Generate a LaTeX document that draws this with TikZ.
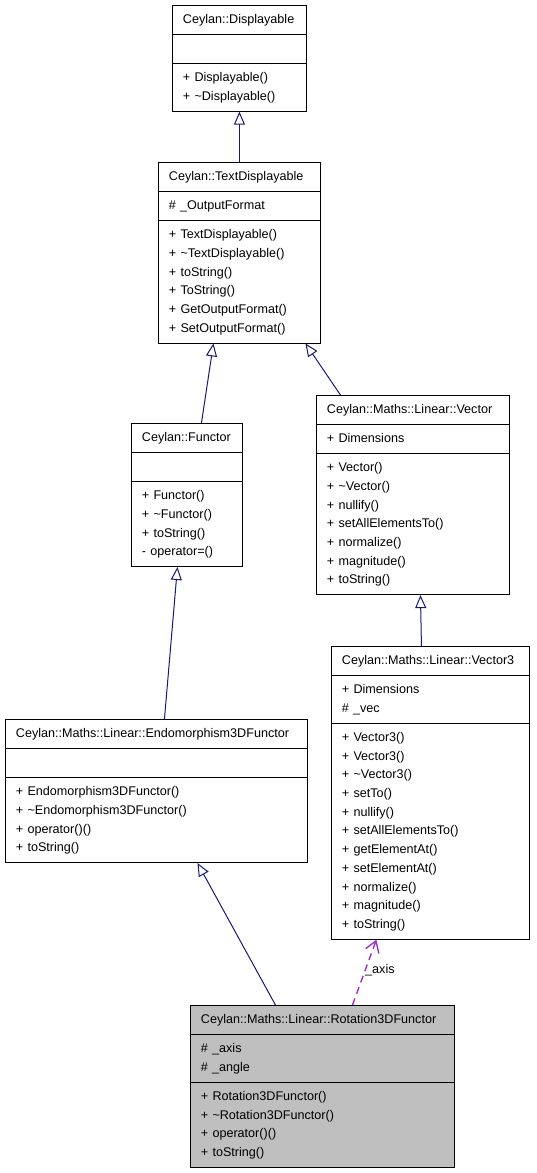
\documentclass[tikz,border=0pt]{standalone}
\usepackage{fontspec}
\setmainfont{Liberation Sans}
\usetikzlibrary{arrows.meta,shapes}

\definecolor{edgenavy}{HTML}{191970}
\definecolor{edgepurple}{HTML}{9A32CD}

\begin{document}
\begin{tikzpicture}[x=1pt,y=-1pt,
umlclass/.style={
rectangle split,
rectangle split parts=3,
draw,
line width=0.9pt,
anchor=north west,
align=left,
inner xsep=10.5pt,
inner ysep=4.7pt,
font=\fontsize{12.6}{18.7}\selectfont
},
derived/.style={
draw=edgenavy,
line width=1pt,
-{Triangle[open,length=13pt,width=11pt]}
},
member/.style={
draw=edgepurple,
line width=1.4pt,
dash pattern=on 7pt off 5pt,
-{Straight Barb[length=11pt,width=14pt]}
}]
\useasboundingbox (0,0) rectangle (536,1173);

\node (displayable) [umlclass,text width=113pt] at (172,5)
{\strut Ceylan::Displayable
\nodepart{second}\strut
\nodepart{third}\strut + Displayable()\\
+ \textasciitilde Displayable()\strut};

\node (textdisp) [umlclass,text width=141pt] at (158,162)
{\strut Ceylan::TextDisplayable
\nodepart{second}\strut \# \_OutputFormat
\nodepart{third}\strut + TextDisplayable()\\
+ \textasciitilde TextDisplayable()\\
+ toString()\\
+ ToString()\\
+ GetOutputFormat()\\
+ SetOutputFormat()\strut};

\node (functor) [umlclass,text width=90pt] at (131,423)
{\strut Ceylan::Functor
\nodepart{second}\strut
\nodepart{third}\strut + Functor()\\
+ \textasciitilde Functor()\\
+ toString()\\
- operator=()\strut};

\node (vector) [umlclass,text width=172pt] at (316,395)
{\strut Ceylan::Maths::Linear::Vector
\nodepart{second}\strut + Dimensions
\nodepart{third}\strut + Vector()\\
+ \textasciitilde Vector()\\
+ nullify()\\
+ setAllElementsTo()\\
+ normalize()\\
+ magnitude()\\
+ toString()\strut};

\node (vector3) [umlclass,text width=177pt] at (331,646)
{\strut Ceylan::Maths::Linear::Vector3
\nodepart{second}\strut + Dimensions\\
\# \_vec\strut
\nodepart{third}\strut + Vector3()\\
+ Vector3()\\
+ \textasciitilde Vector3()\\
+ setTo()\\
+ nullify()\\
+ setAllElementsTo()\\
+ getElementAt()\\
+ setElementAt()\\
+ normalize()\\
+ magnitude()\\
+ toString()\strut};

\node (endo) [umlclass,text width=281pt] at (5,719)
{\strut Ceylan::Maths::Linear::Endomorphism3DFunctor
\nodepart{second}\strut
\nodepart{third}\strut + Endomorphism3DFunctor()\\
+ \textasciitilde Endomorphism3DFunctor()\\
+ operator()()\\
+ toString()\strut};

\node (rotation) [umlclass,text width=243pt,fill=gray!50] at (190,1005)
{\strut Ceylan::Maths::Linear::Rotation3DFunctor
\nodepart{second}\strut \# \_axis\\
\# \_angle\strut
\nodepart{third}\strut + Rotation3DFunctor()\\
+ \textasciitilde Rotation3DFunctor()\\
+ operator()()\\
+ toString()\strut};

% inheritance
\draw [derived] (textdisp.north) -- (displayable.south);
\draw [derived] ([xshift=14.5pt]functor.north) -- ([xshift=-26pt]textdisp.south);
\draw [derived] ([xshift=-72.5pt]vector.north) -- ([xshift=66pt]textdisp.south);
\draw [derived] ([xshift=-9pt]vector3.north) -- ([xshift=7.5pt]vector.south);
\draw [derived] ([xshift=8pt]endo.north) -- ([xshift=-9.5pt]functor.south);
\draw [derived] ([xshift=-47pt]rotation.north) -- ([xshift=41pt]endo.south);

% usage
\draw [member] ([xshift=30pt]rotation.north) -- ([xshift=-54pt]vector3.south);
\node (axislabel) [anchor=west,inner sep=0pt,font=\fontsize{12.6}{18.7}\selectfont] at (365,970) {\_axis};
\end{tikzpicture}
\end{document}
